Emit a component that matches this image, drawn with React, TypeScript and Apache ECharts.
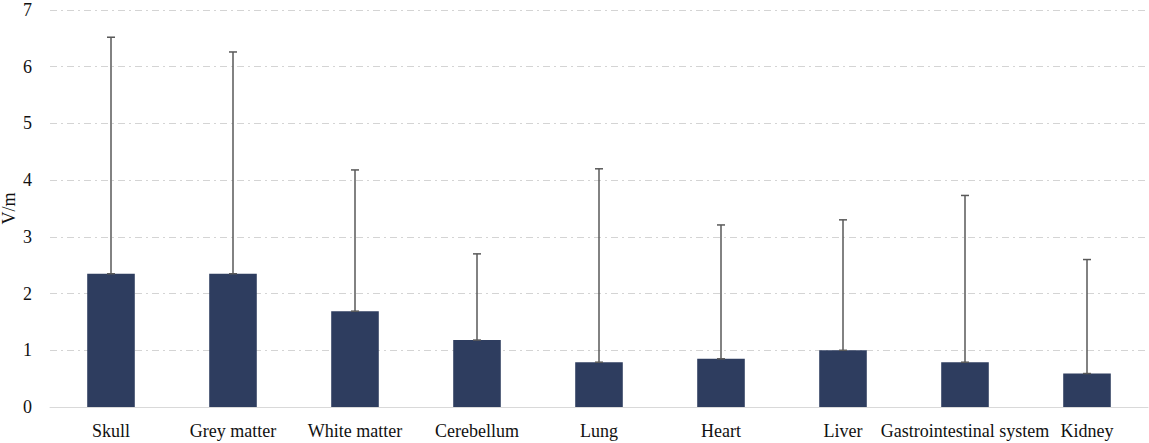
import React, { useEffect, useRef } from "react";
import * as echarts from "echarts";

// Mean electric field per tissue, with the upper end of each error bar
const categories = [
  "Skull",
  "Grey matter",
  "White matter",
  "Cerebellum",
  "Lung",
  "Heart",
  "Liver",
  "Gastrointestinal system",
  "Kidney",
];
const meanValues = [2.35, 2.35, 1.69, 1.18, 0.79, 0.85, 1.0, 0.79, 0.59];
const upperValues = [6.52, 6.26, 4.18, 2.7, 4.2, 3.21, 3.3, 3.73, 2.6];
const yTicks = [0, 1, 2, 3, 4, 5, 6, 7];

const FONT = '"Liberation Serif", "Times New Roman", serif';

export default function App() {
  const ref = useRef<HTMLDivElement>(null);

  useEffect(() => {
    document.body.style.margin = "0";
    if (!ref.current) return;
    const chart = echarts.init(ref.current, null, { renderer: "svg" });

    const errorData = categories.map((_, i) => [i, meanValues[i], upperValues[i]]);

    chart.setOption({
      animation: false,
      textStyle: { fontFamily: FONT },
      grid: {
        left: 50,
        right: 1,
        top: 10,
        bottom: 36,
        containLabel: false,
        outerBoundsMode: "none",
      },
      xAxis: {
        type: "category",
        data: categories,
        axisLine: { show: true, lineStyle: { color: "#d9d9d9", width: 1 } },
        axisTick: { show: false },
        axisLabel: {
          color: "#111",
          fontFamily: FONT,
          fontSize: 18,
          margin: 15,
          interval: 0,
        },
      },
      yAxis: {
        type: "value",
        min: yTicks[0],
        max: yTicks[yTicks.length - 1],
        interval: 1,
        name: "V/m",
        nameLocation: "middle",
        nameGap: 32,
        nameMoveOverlap: false,
        nameTextStyle: { color: "#111", fontFamily: FONT, fontSize: 18 },
        axisLine: { show: false },
        axisTick: { show: false },
        axisLabel: {
          color: "#111",
          fontFamily: FONT,
          fontSize: 18,
          margin: 18,
        },
        splitLine: {
          show: true,
          lineStyle: { color: "#d4d4d4", width: 1, type: [7, 4, 2, 4] },
        },
      },
      series: [
        {
          type: "bar",
          data: meanValues,
          barWidth: "39%",
          itemStyle: { color: "#2e3d5f" },
          z: 2,
        },
        {
          type: "custom",
          data: errorData,
          z: 3,
          renderItem: (params: any, api: any) => {
            const idx = api.value(0);
            const base = api.coord([idx, api.value(1)]);
            const top = api.coord([idx, api.value(2)]);
            const half = 4;
            const style = { stroke: "#595959", lineWidth: 1.5, fill: "none" };
            return {
              type: "group",
              children: [
                {
                  type: "line",
                  shape: { x1: base[0], y1: base[1], x2: top[0], y2: top[1] },
                  style,
                },
                {
                  type: "line",
                  shape: { x1: top[0] - half, y1: top[1], x2: top[0] + half, y2: top[1] },
                  style,
                },
                {
                  type: "line",
                  shape: { x1: base[0] - half, y1: base[1], x2: base[0] + half, y2: base[1] },
                  style,
                },
              ],
            };
          },
        },
      ],
    });

    return () => chart.dispose();
  }, []);

  return <div ref={ref} style={{ width: 1149, height: 443, background: "#fff" }} />;
}
